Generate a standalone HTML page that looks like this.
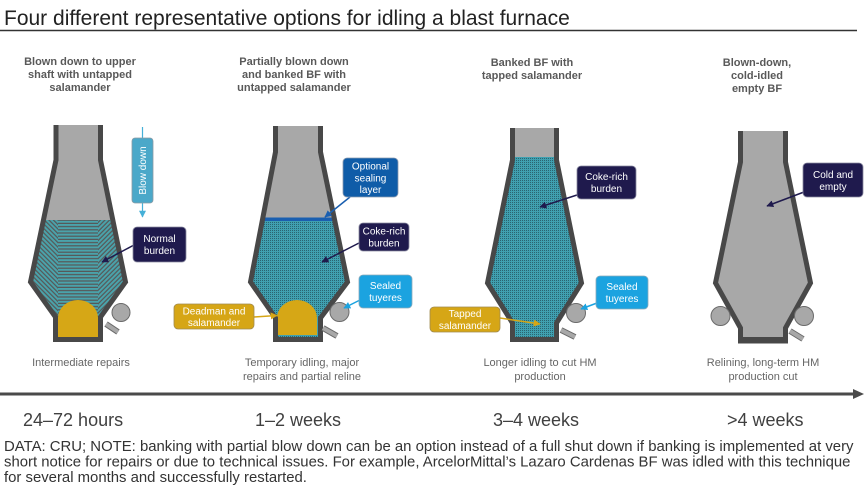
<!DOCTYPE html>
<html>
<head>
<meta charset="utf-8">
<style>
  html,body{margin:0;padding:0;background:#fff;}
  body{width:868px;height:497px;overflow:hidden;}
  svg{display:block;font-family:"Liberation Sans",Arial,sans-serif;}
</style>
</head>
<body>
<svg width="868" height="497" viewBox="0 0 868 497" xmlns="http://www.w3.org/2000/svg">
  <defs>
    <pattern id="hs" width="4" height="3.2" patternUnits="userSpaceOnUse">
      <rect width="4" height="3.2" fill="#4aa3ab"/>
      <rect y="2" width="4" height="1.2" fill="#575757"/>
    </pattern>
    <pattern id="hl" width="4" height="3.2" patternUnits="userSpaceOnUse" patternTransform="rotate(45)">
      <rect width="4" height="3.2" fill="#4aa3ab"/>
      <rect y="2" width="4" height="1.2" fill="#575757"/>
    </pattern>
    <pattern id="hr" width="4" height="3.2" patternUnits="userSpaceOnUse" patternTransform="rotate(-45)">
      <rect width="4" height="3.2" fill="#4aa3ab"/>
      <rect y="2" width="4" height="1.2" fill="#575757"/>
    </pattern>
    <pattern id="ck" width="2" height="2" patternUnits="userSpaceOnUse">
      <rect width="2" height="2" fill="#40a0b0"/>
      <rect width="1" height="1" fill="#2a6470"/>
    </pattern>
    <marker id="an" viewBox="0 0 10 10" refX="9" refY="5" markerWidth="7" markerHeight="7" markerUnits="userSpaceOnUse" orient="auto"><path d="M0,0 L10,5 L0,10 z" fill="#1f1a4d"/></marker>
    <marker id="ab" viewBox="0 0 10 10" refX="9" refY="5" markerWidth="7" markerHeight="7" markerUnits="userSpaceOnUse" orient="auto"><path d="M0,0 L10,5 L0,10 z" fill="#1a5fb0"/></marker>
    <marker id="al" viewBox="0 0 10 10" refX="9" refY="5" markerWidth="7" markerHeight="7" markerUnits="userSpaceOnUse" orient="auto"><path d="M0,0 L10,5 L0,10 z" fill="#1ba3e0"/></marker>
    <marker id="ag" viewBox="0 0 10 10" refX="9" refY="5" markerWidth="7" markerHeight="7" markerUnits="userSpaceOnUse" orient="auto"><path d="M0,0 L10,5 L0,10 z" fill="#d6a616"/></marker>
    <marker id="ac" viewBox="0 0 10 10" refX="9" refY="5" markerWidth="7" markerHeight="7" markerUnits="userSpaceOnUse" orient="auto"><path d="M0,0 L10,5 L0,10 z" fill="#45b0d8"/></marker>

    <clipPath id="c1"><path d="M56,125 V160 L30.5,282 L55.5,317 V339.5 H100.5 V317 L125.5,282 L100.5,160 V125 Z"/></clipPath>
    <clipPath id="c2"><path d="M275.5,126 V152 L250.5,282 L275.5,318 V339.5 H320.5 V318 L347.5,282 L320.5,152 V126 Z"/></clipPath>
    <clipPath id="c3"><path d="M512.5,128 V160 L487.5,283 L512.5,323 V339.5 H556.5 V323 L581.5,283 L556.5,160 V128 Z"/></clipPath>
    <clipPath id="c4"><path d="M740.5,131 V162 L715.5,283 L740.5,328 V340 H785.5 V328 L810.5,283 L785.5,162 V131 Z"/></clipPath>
  </defs>

  <!-- Title -->
  <text x="4" y="25" font-size="21" fill="#222">Four different representative options for idling a blast furnace</text>
  <line x1="0" y1="30.5" x2="857" y2="30.5" stroke="#333" stroke-width="1.5"/>

  <!-- Headings -->
  <g font-size="11" font-weight="bold" fill="#595959" text-anchor="middle">
    <text x="80" y="65">Blown down to upper</text>
    <text x="80" y="78">shaft with untapped</text>
    <text x="80" y="91">salamander</text>
    <text x="294" y="65">Partially blown down</text>
    <text x="294" y="78">and banked BF with</text>
    <text x="294" y="91">untapped salamander</text>
    <text x="532" y="66">Banked BF with</text>
    <text x="532" y="79">tapped salamander</text>
    <text x="757" y="66">Blown-down,</text>
    <text x="757" y="79">cold-idled</text>
    <text x="757" y="92">empty BF</text>
  </g>

  <!-- Furnace 1 -->
  <g clip-path="url(#c1)">
    <rect x="20" y="120" width="120" height="100" fill="#a8a8a8"/>
    <rect x="20" y="220" width="40" height="130" fill="url(#hl)"/>
    <rect x="96" y="220" width="40" height="130" fill="url(#hr)"/>
    <rect x="58" y="220" width="40" height="130" fill="url(#hs)"/>
  </g>
  <path d="M58,337 V318 A20,18 0 0 1 98,318 V337 Z" fill="#d6a716"/>
  <path d="M56,125 V160 L30.5,282 L55.5,317 V339.5 H100.5 V317 L125.5,282 L100.5,160 V125" fill="none" stroke="#484848" stroke-width="5" stroke-linejoin="miter"/>
  <line x1="106" y1="324" x2="118" y2="332" stroke="#6a6a6a" stroke-width="6"/>
  <line x1="106" y1="324" x2="118" y2="332" stroke="#a8a8a8" stroke-width="4"/>
  <circle cx="121" cy="312.5" r="9" fill="#a8a8a8" stroke="#6b6b6b" stroke-width="1"/>
  <!-- Blow down -->
  <line x1="142.5" y1="127" x2="142.5" y2="217" stroke="#45b0d8" stroke-width="1.2" marker-end="url(#ac)"/>
  <rect x="132" y="138" width="21" height="65" rx="3" fill="#4ba8c9" stroke="#8a9aa4" stroke-width="0.8"/>
  <text transform="translate(146,170.5) rotate(-90)" font-size="10" fill="#fff" text-anchor="middle">Blow down</text>
  <!-- Normal burden -->
  <line x1="134" y1="245" x2="102" y2="262" stroke="#1f1a4d" stroke-width="1.5" marker-end="url(#an)"/>
  <rect x="133" y="227" width="53" height="35" rx="4" fill="#1f1a4d" stroke="#8a8aa0" stroke-width="0.8"/>
  <g font-size="10" fill="#fff" text-anchor="middle">
    <text x="159.5" y="242">Normal</text>
    <text x="159.5" y="254">burden</text>
  </g>

  <!-- Furnace 2 -->
  <g clip-path="url(#c2)">
    <rect x="240" y="120" width="120" height="98" fill="#a8a8a8"/>
    <rect x="240" y="221" width="120" height="130" fill="url(#ck)"/>
    <rect x="240" y="217.5" width="120" height="3.5" fill="#1a5fb0"/>
  </g>
  <path d="M277,335 V318 A20,18 0 0 1 317,318 V335 Z" fill="#d6a716"/>
  <path d="M275.5,126 V152 L250.5,282 L275.5,318 V339.5 H320.5 V318 L347.5,282 L320.5,152 V126" fill="none" stroke="#484848" stroke-width="5"/>
  <line x1="323" y1="328" x2="337" y2="336" stroke="#6a6a6a" stroke-width="6"/>
  <line x1="323" y1="328" x2="337" y2="336" stroke="#a8a8a8" stroke-width="4"/>
  <circle cx="339.5" cy="312" r="9.5" fill="#a8a8a8" stroke="#6b6b6b" stroke-width="1"/>
  <!-- Optional sealing layer -->
  <line x1="350" y1="197" x2="325" y2="217" stroke="#1a5fb0" stroke-width="1.5" marker-end="url(#ab)"/>
  <rect x="343" y="158" width="55" height="39" rx="4" fill="#0f5ca8" stroke="#8a9ab0" stroke-width="0.8"/>
  <g font-size="10" fill="#fff" text-anchor="middle">
    <text x="370.5" y="169.5">Optional</text>
    <text x="370.5" y="181.5">sealing</text>
    <text x="370.5" y="193">layer</text>
  </g>
  <!-- Coke-rich burden -->
  <line x1="359" y1="243" x2="322" y2="262" stroke="#1f1a4d" stroke-width="1.5" marker-end="url(#an)"/>
  <rect x="359" y="223" width="50" height="28" rx="4" fill="#1f1a4d" stroke="#8a8aa0" stroke-width="0.8"/>
  <g font-size="10" fill="#fff" text-anchor="middle">
    <text x="384" y="234.5">Coke-rich</text>
    <text x="384" y="246.5">burden</text>
  </g>
  <!-- Sealed tuyeres -->
  <line x1="360" y1="300" x2="344" y2="308" stroke="#1ba3e0" stroke-width="1.5" marker-end="url(#al)"/>
  <rect x="359" y="275" width="53" height="33" rx="4" fill="#1ba3e0" stroke="#8aaabb" stroke-width="0.8"/>
  <g font-size="10" fill="#fff" text-anchor="middle">
    <text x="385.5" y="289">Sealed</text>
    <text x="385.5" y="301">tuyeres</text>
  </g>
  <!-- Deadman and salamander -->
  <line x1="254" y1="317" x2="277" y2="315.5" stroke="#d6a616" stroke-width="1.5" marker-end="url(#ag)"/>
  <rect x="174" y="304" width="80" height="25" rx="4" fill="#d6a616" stroke="#a08a50" stroke-width="0.8"/>
  <g font-size="10" fill="#fff" text-anchor="middle">
    <text x="214" y="314.5">Deadman and</text>
    <text x="214" y="326">salamander</text>
  </g>

  <!-- Furnace 3 -->
  <g clip-path="url(#c3)">
    <rect x="480" y="120" width="110" height="37" fill="#a8a8a8"/>
    <rect x="480" y="157" width="110" height="190" fill="url(#ck)"/>
  </g>
  <path d="M512.5,128 V160 L487.5,283 L512.5,323 V339.5 H556.5 V323 L581.5,283 L556.5,160 V128" fill="none" stroke="#484848" stroke-width="5"/>
  <line x1="561" y1="330" x2="575" y2="337" stroke="#6a6a6a" stroke-width="6"/>
  <line x1="561" y1="330" x2="575" y2="337" stroke="#a8a8a8" stroke-width="4"/>
  <circle cx="576" cy="313" r="9.5" fill="#a8a8a8" stroke="#6b6b6b" stroke-width="1"/>
  <!-- Coke-rich burden -->
  <line x1="577" y1="195" x2="540" y2="207" stroke="#1f1a4d" stroke-width="1.5" marker-end="url(#an)"/>
  <rect x="577" y="166" width="59" height="33" rx="4" fill="#1f1a4d" stroke="#8a8aa0" stroke-width="0.8"/>
  <g font-size="10" fill="#fff" text-anchor="middle">
    <text x="606.5" y="180">Coke-rich</text>
    <text x="606.5" y="192">burden</text>
  </g>
  <!-- Sealed tuyeres -->
  <line x1="597" y1="303" x2="581" y2="309" stroke="#1ba3e0" stroke-width="1.5" marker-end="url(#al)"/>
  <rect x="596" y="276" width="52" height="33" rx="4" fill="#1ba3e0" stroke="#8aaabb" stroke-width="0.8"/>
  <g font-size="10" fill="#fff" text-anchor="middle">
    <text x="622" y="290">Sealed</text>
    <text x="622" y="302">tuyeres</text>
  </g>
  <!-- Tapped salamander -->
  <line x1="500" y1="318" x2="540" y2="324" stroke="#d6a616" stroke-width="1.5" marker-end="url(#ag)"/>
  <rect x="430" y="307" width="70" height="25" rx="4" fill="#d6a616" stroke="#a08a50" stroke-width="0.8"/>
  <g font-size="10" fill="#fff" text-anchor="middle">
    <text x="465" y="317">Tapped</text>
    <text x="465" y="329">salamander</text>
  </g>

  <!-- Furnace 4 -->
  <g clip-path="url(#c4)">
    <rect x="700" y="125" width="125" height="225" fill="#a8a8a8"/>
  </g>
  <path d="M740.5,131 V162 L715.5,283 L740.5,328 V340 H785.5 V328 L810.5,283 L785.5,162 V131" fill="none" stroke="#484848" stroke-width="5"/>
  <rect x="738" y="337" width="50" height="6.5" fill="#484848"/>
  <line x1="790" y1="331" x2="803" y2="339" stroke="#6a6a6a" stroke-width="6"/>
  <line x1="790" y1="331" x2="803" y2="339" stroke="#a8a8a8" stroke-width="4"/>
  <circle cx="720.5" cy="316" r="9.5" fill="#a8a8a8" stroke="#6b6b6b" stroke-width="1"/>
  <circle cx="804" cy="316" r="9.5" fill="#a8a8a8" stroke="#6b6b6b" stroke-width="1"/>
  <!-- Cold and empty -->
  <line x1="804" y1="192" x2="767" y2="206" stroke="#1f1a4d" stroke-width="1.5" marker-end="url(#an)"/>
  <rect x="803" y="163" width="60" height="34" rx="4" fill="#1f1a4d" stroke="#8a8aa0" stroke-width="0.8"/>
  <g font-size="10" fill="#fff" text-anchor="middle">
    <text x="833" y="178">Cold and</text>
    <text x="833" y="190">empty</text>
  </g>

  <!-- Captions -->
  <g font-size="11" fill="#666" text-anchor="middle">
    <text x="81" y="366">Intermediate repairs</text>
    <text x="302" y="366">Temporary idling, major</text>
    <text x="302" y="380">repairs and partial reline</text>
    <text x="540" y="366">Longer idling to cut HM</text>
    <text x="540" y="380">production</text>
    <text x="763" y="366">Relining, long-term HM</text>
    <text x="763" y="380">production cut</text>
  </g>

  <!-- Timeline -->
  <line x1="0" y1="394" x2="856" y2="394" stroke="#4a4a4a" stroke-width="3"/>
  <polygon points="853,389 864,394 853,399" fill="#4a4a4a"/>
  <g font-size="18" fill="#404040">
    <text x="23" y="426">24–72 hours</text>
    <text x="255" y="426">1–2 weeks</text>
    <text x="493" y="426">3–4 weeks</text>
    <text x="727" y="426">&gt;4 weeks</text>
  </g>

  <!-- Footer -->
  <g font-size="14.9" fill="#333">
    <text x="4" y="451">DATA: CRU; NOTE: banking with partial blow down can be an option instead of a full shut down if banking is implemented at very</text>
    <text x="4" y="466.5">short notice for repairs or due to technical issues. For example, ArcelorMittal’s Lazaro Cardenas BF was idled with this technique</text>
    <text x="4" y="482">for several months and successfully restarted.</text>
  </g>
</svg>
</body>
</html>
